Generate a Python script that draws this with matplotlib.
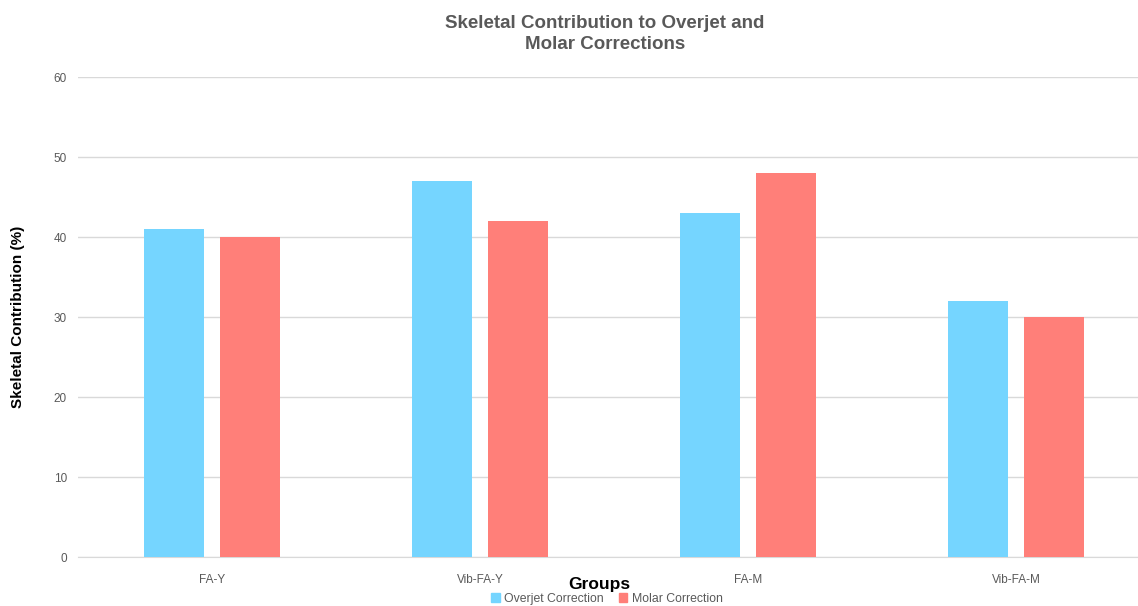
import matplotlib
matplotlib.use("Agg")
import matplotlib.pyplot as plt
from matplotlib.patches import Patch
import numpy as np

plt.rcParams['font.family'] = ['Liberation Sans', 'DejaVu Sans']

groups = ["FA-Y", "Vib-FA-Y", "FA-M", "Vib-FA-M"]
overjet = [41, 47, 43, 32]
molar = [40, 42, 48, 30]
series_names = ["Overjet Correction", "Molar Correction"]
colors = ["#75D5FF", "#FF7F79"]

W, H = 1138, 606
fig = plt.figure(figsize=(W/100, H/100), dpi=100)
ax = fig.add_axes([78/W, 1-557/H, 1-78/W, (557-77)/H])

x = np.arange(len(groups))
bw = 0.224
off = 0.142
ax.bar(x - off, overjet, bw, color=colors[0], zorder=3)
ax.bar(x + off, molar, bw, color=colors[1], zorder=3)

ax.set_xlim(-0.5, 3.455)
ax.set_ylim(0, 60)
ax.set_yticks(range(0, 61, 10))
ax.set_xticks(x)
ax.set_xticklabels(groups)
ax.grid(axis='y', color='#D9D9D9', linewidth=1, zorder=0)
for s in ['top', 'right', 'left']:
    ax.spines[s].set_visible(False)
ax.spines['bottom'].set_color('#D9D9D9')
ax.tick_params(axis='y', length=0, labelsize=8.5, labelcolor='#595959', pad=8)
ax.tick_params(axis='x', length=0, labelsize=8.5, labelcolor='#595959', pad=12)

fig.text(605/W, 1-34/H, "Skeletal Contribution to Overjet and\nMolar Corrections",
         ha='center', va='center', fontsize=13.5, fontweight='bold', color='#595959',
         linespacing=1.25)
fig.text(18/W, 1-317/H, "Skeletal Contribution (%)", rotation=90, ha='center', va='center',
         fontsize=11, fontweight='bold', color='black')
fig.text(599/W, 1-584/H, "Groups", ha='center', va='center', fontsize=12.5,
         fontweight='bold', color='black')

handles = [Patch(color=c, label=n) for c, n in zip(colors, series_names)]
fig.legend(handles=handles, loc='center', bbox_to_anchor=(607/W, 1-599/H), ncol=2,
           frameon=False, fontsize=8.8, handlelength=0.7, handleheight=0.7,
           columnspacing=1.2, handletextpad=0.4, labelcolor='#595959',
           borderpad=0.1)

fig.savefig("out.png", dpi=100)
